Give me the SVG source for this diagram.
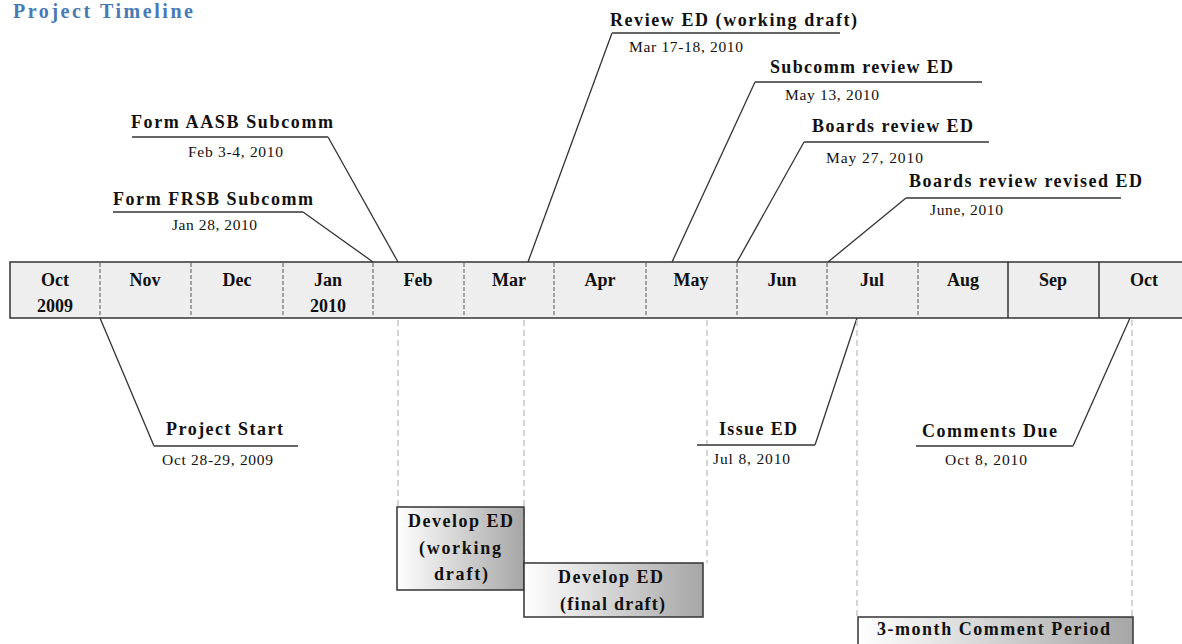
<svg xmlns="http://www.w3.org/2000/svg" width="1182" height="644" viewBox="0 0 1182 644">
<style>
.b{font-family:"Liberation Serif","Times New Roman",serif;font-weight:bold;font-size:18px;fill:#111}
.r{font-family:"Liberation Serif","Times New Roman",serif;font-size:15.5px;fill:#111}
.m{font-family:"Liberation Serif","Times New Roman",serif;font-weight:bold;font-size:18px;fill:#111;text-anchor:middle}
.lead{stroke:#333;stroke-width:1.3;fill:none}
.ul{stroke:#666;stroke-width:2.2;fill:none}
.div{stroke:#555;stroke-width:1;stroke-dasharray:4,2}
.sol{stroke:#333;stroke-width:1.5}
.gd{stroke:#c8c8c8;stroke-width:1.5;stroke-dasharray:6,4}
.box{stroke:#333;stroke-width:1.5;fill:url(#g)}
</style>
<defs>
<linearGradient id="g" x1="0" y1="0" x2="1" y2="0">
<stop offset="0" stop-color="#ffffff"/>
<stop offset="1" stop-color="#a6a6a6"/>
</linearGradient>
</defs>
<rect width="1182" height="644" fill="#fff"/>
<text x="13" y="18" font-family="Liberation Serif, serif" font-weight="bold" font-size="20" fill="#4a7ab4" textLength="180" lengthAdjust="spacing">Project Timeline</text>

<g id="timeline">
<rect x="10" y="262" width="1182" height="56" fill="#eeeeee" stroke="#333" stroke-width="1.5"/>
<line class="div" x1="100" y1="263" x2="100" y2="317"/>
<line class="div" x1="191" y1="263" x2="191" y2="317"/>
<line class="div" x1="283" y1="263" x2="283" y2="317"/>
<line class="div" x1="373" y1="263" x2="373" y2="317"/>
<line class="div" x1="464" y1="263" x2="464" y2="317"/>
<line class="div" x1="554" y1="263" x2="554" y2="317"/>
<line class="div" x1="646" y1="263" x2="646" y2="317"/>
<line class="div" x1="737" y1="263" x2="737" y2="317"/>
<line class="div" x1="827" y1="263" x2="827" y2="317"/>
<line class="div" x1="918" y1="263" x2="918" y2="317"/>
<line class="sol" x1="1008" y1="262" x2="1008" y2="318"/>
<line class="sol" x1="1099" y1="262" x2="1099" y2="318"/>
<text class="m" x="55" y="286">Oct</text>
<text class="m" x="55" y="312">2009</text>
<text class="m" x="145" y="286">Nov</text>
<text class="m" x="237" y="286">Dec</text>
<text class="m" x="328" y="286">Jan</text>
<text class="m" x="328" y="312">2010</text>
<text class="m" x="418" y="286">Feb</text>
<text class="m" x="509" y="286">Mar</text>
<text class="m" x="600" y="286">Apr</text>
<text class="m" x="691" y="286">May</text>
<text class="m" x="782" y="286">Jun</text>
<text class="m" x="872" y="286">Jul</text>
<text class="m" x="963" y="286">Aug</text>
<text class="m" x="1053" y="286">Sep</text>
<text class="m" x="1144" y="286">Oct</text>
</g>

<g id="connectors">
<polyline class="lead" points="373,262 303,212"/>
<polyline class="lead" points="398,262 328,137"/>
<polyline class="lead" points="528,262 612,33"/>
<polyline class="lead" points="672,262 755,82"/>
<polyline class="lead" points="737,262 804,142"/>
<polyline class="lead" points="828,262 906,198"/>
<polyline class="lead" points="100,318 154,446"/>
<polyline class="lead" points="857,318 815,445"/>
<polyline class="lead" points="1130,318 1073,446"/>
<line class="gd" x1="398" y1="320" x2="398" y2="507"/>
<line class="gd" x1="524" y1="320" x2="524" y2="563"/>
<line class="gd" x1="707" y1="320" x2="707" y2="563"/>
<line class="gd" x1="857" y1="320" x2="857" y2="617"/>
<line class="gd" x1="1132" y1="320" x2="1132" y2="617"/>
</g>

<g id="form-frsb">
<line class="ul" x1="113" y1="212" x2="303" y2="212"/>
<text class="b" x="113" y="205" textLength="200" lengthAdjust="spacing">Form FRSB Subcomm</text>
<text class="r" x="172" y="230" textLength="85" lengthAdjust="spacing">Jan 28, 2010</text>
</g>
<g id="form-aasb">
<line class="ul" x1="132" y1="137" x2="328" y2="137"/>
<text class="b" x="131" y="128" textLength="202" lengthAdjust="spacing">Form AASB Subcomm</text>
<text class="r" x="188" y="157" textLength="95" lengthAdjust="spacing">Feb 3-4, 2010</text>
</g>
<g id="review-ed">
<line class="ul" x1="612" y1="33" x2="840" y2="33"/>
<text class="b" x="610" y="26" textLength="247" lengthAdjust="spacing">Review ED (working draft)</text>
<text class="r" x="629" y="52" textLength="114" lengthAdjust="spacing">Mar 17-18, 2010</text>
</g>
<g id="subcomm-review">
<line class="ul" x1="755" y1="82" x2="982" y2="82"/>
<text class="b" x="770" y="73" textLength="183" lengthAdjust="spacing">Subcomm review ED</text>
<text class="r" x="785" y="100" textLength="94" lengthAdjust="spacing">May 13, 2010</text>
</g>
<g id="boards-review">
<line class="ul" x1="804" y1="142" x2="989" y2="142"/>
<text class="b" x="812" y="132" textLength="161" lengthAdjust="spacing">Boards review ED</text>
<text class="r" x="826" y="163" textLength="97" lengthAdjust="spacing">May 27, 2010</text>
</g>
<g id="boards-revised">
<line class="ul" x1="906" y1="198" x2="1121" y2="198"/>
<text class="b" x="909" y="187" textLength="233" lengthAdjust="spacing">Boards review revised ED</text>
<text class="r" x="930" y="215" textLength="73" lengthAdjust="spacing">June, 2010</text>
</g>
<g id="project-start">
<line class="ul" x1="154" y1="446" x2="298" y2="446"/>
<text class="b" x="166" y="435" textLength="117" lengthAdjust="spacing">Project Start</text>
<text class="r" x="162" y="465" textLength="111" lengthAdjust="spacing">Oct 28-29, 2009</text>
</g>
<g id="issue-ed">
<line class="ul" x1="697" y1="445" x2="815" y2="445"/>
<text class="b" x="719" y="435" textLength="78" lengthAdjust="spacing">Issue ED</text>
<text class="r" x="713" y="464" textLength="77" lengthAdjust="spacing">Jul 8, 2010</text>
</g>
<g id="comments-due">
<line class="ul" x1="916" y1="446" x2="1073" y2="446"/>
<text class="b" x="922" y="437" textLength="135" lengthAdjust="spacing">Comments Due</text>
<text class="r" x="945" y="465" textLength="82" lengthAdjust="spacing">Oct 8, 2010</text>
</g>

<g id="develop-working">
<rect class="box" x="397" y="507" width="127" height="83"/>
<text class="b" x="408" y="527" textLength="105" lengthAdjust="spacing">Develop ED</text>
<text class="b" x="419" y="554" textLength="82" lengthAdjust="spacing">(working</text>
<text class="b" x="434" y="580" textLength="54" lengthAdjust="spacing">draft)</text>
</g>
<g id="develop-final">
<rect class="box" x="524" y="563" width="179" height="54"/>
<text class="b" x="558" y="583" textLength="105" lengthAdjust="spacing">Develop ED</text>
<text class="b" x="560" y="610" textLength="105" lengthAdjust="spacing">(final draft)</text>
</g>
<g id="comment-period">
<rect class="box" x="858" y="617" width="275" height="40"/>
<text class="b" x="877" y="635" textLength="233" lengthAdjust="spacing">3-month Comment Period</text>
</g>
</svg>
